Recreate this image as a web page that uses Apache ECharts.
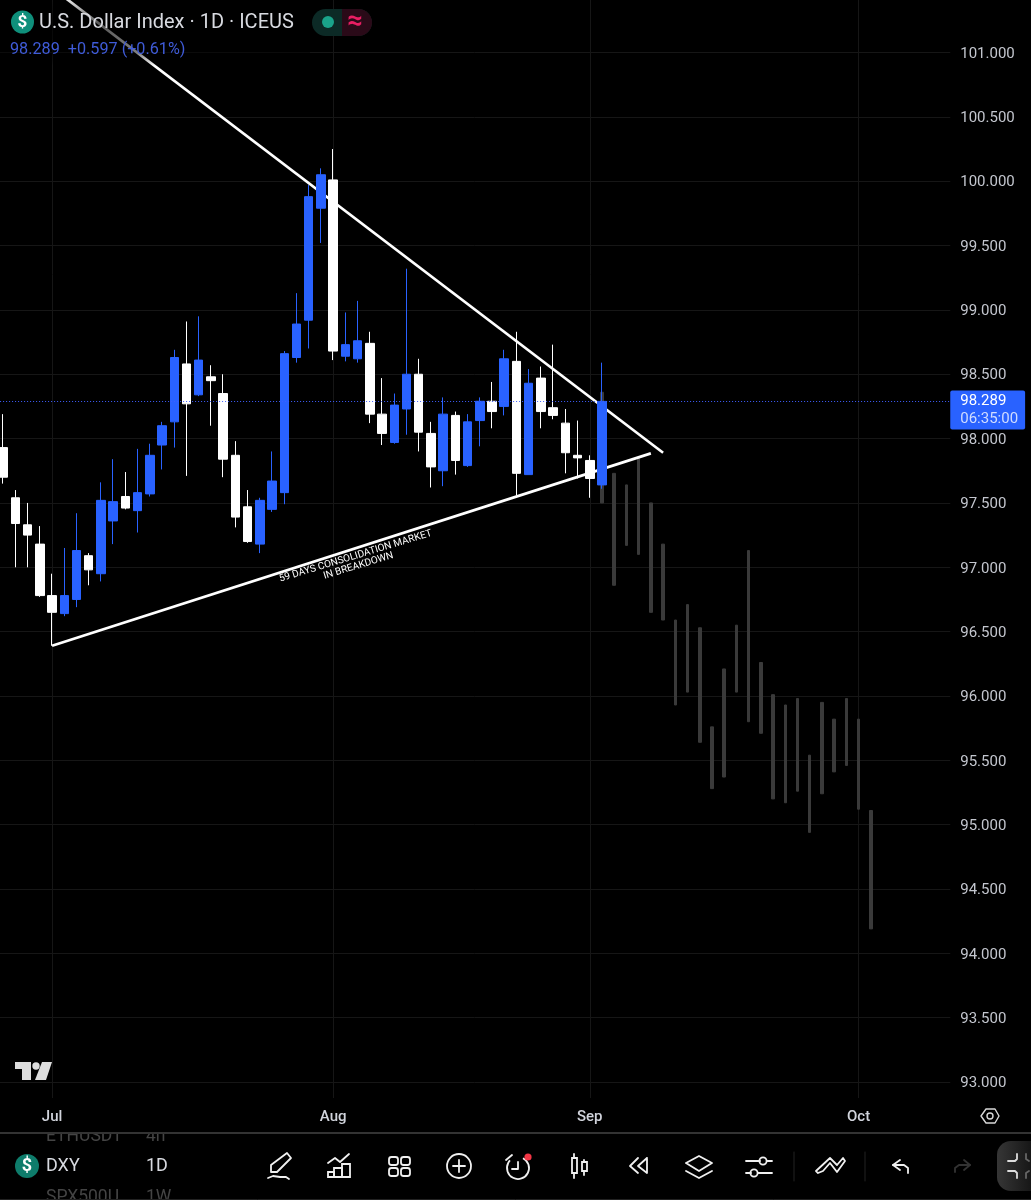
<!DOCTYPE html>
<html>
<head>
<meta charset="utf-8">
<style>html,body{margin:0;padding:0;background:#000}#c{width:1031px;height:1200px}</style>
<script src="https://cdn.jsdelivr.net/npm/echarts@6/dist/echarts.min.js"></script>
</head>
<body>
<div id="c"></div>
<script>
const tradingDays = [
 '06-25','06-26','06-27','06-30','07-01','07-02','07-03','07-04','07-07','07-08','07-09','07-10','07-11',
 '07-14','07-15','07-16','07-17','07-18','07-21','07-22','07-23','07-24','07-25','07-28','07-29','07-30','07-31',
 '08-01','08-04','08-05','08-06','08-07','08-08','08-11','08-12','08-13','08-14','08-15','08-18','08-19','08-20',
 '08-21','08-22','08-25','08-26','08-27','08-28','08-29','09-01','09-02','09-03','09-04','09-05','09-08','09-09',
 '09-10','09-11','09-12','09-15','09-16','09-17','09-18','09-19','09-22','09-23','09-24','09-25','09-26','09-29',
 '09-30','10-01','10-02','10-03','10-06','10-07','10-08','10-09','10-10'];
const monthLabels = {'07-01':'Jul','08-01':'Aug','09-01':'Sep','10-01':'Oct'};
const priceTicks = [93,93.5,94,94.5,95,95.5,96,96.5,97,97.5,98,98.5,99,99.5,100,100.5,101];

// open, close, low, high (blue = close above open, white = close below open)
const candles = [
 [97.93,97.70,97.65,98.19],[97.54,97.34,97.00,97.60],[97.33,97.25,97.00,97.50],[97.18,96.78,96.77,97.32],
 [96.78,96.65,96.39,96.95],[96.64,96.78,96.62,97.15],[96.75,97.13,96.69,97.42],[97.09,96.98,96.86,97.11],
 [96.95,97.52,96.89,97.66],[97.36,97.51,97.18,97.84],[97.55,97.46,97.45,97.74],[97.44,97.58,97.27,97.92],
 [97.57,97.87,97.55,97.96],[97.95,98.10,97.76,98.13],[98.13,98.63,97.93,98.69],[98.58,98.27,97.71,98.91],
 [98.34,98.61,98.33,98.95],[98.48,98.45,98.10,98.57],[98.35,97.84,97.70,98.50],[97.87,97.39,97.31,97.98],
 [97.47,97.20,97.19,97.60],[97.18,97.52,97.11,97.54],[97.45,97.67,97.43,97.90],[97.58,98.66,97.49,98.68],
 [98.63,98.89,98.59,99.13],[98.92,99.88,98.70,99.97],[99.79,100.05,99.52,100.10],[100.01,98.68,98.61,100.25],
 [98.64,98.73,98.60,98.98],[98.62,98.76,98.59,99.07],[98.74,98.19,98.12,98.83],[98.19,98.04,97.95,98.47],
 [97.97,98.26,97.96,98.35],[98.23,98.50,98.03,99.32],[98.50,98.05,97.90,98.62],[98.04,97.78,97.62,98.13],
 [97.75,98.19,97.63,98.32],[98.18,97.83,97.72,98.21],[97.79,98.13,97.78,98.19],[98.14,98.29,97.94,98.32],
 [98.29,98.21,98.08,98.44],[98.25,98.62,98.18,98.69],[98.60,97.73,97.56,98.83],[97.72,98.43,97.72,98.54],
 [98.47,98.21,98.08,98.56],[98.24,98.18,98.15,98.73],[98.12,97.89,97.73,98.23],[97.87,97.85,97.69,98.14],
 [97.83,97.69,97.54,97.87],[97.64,98.289,97.61,98.59]];

// projected bars: first day index, then [high, low]
const ghostStart = 49;
const ghostRanges = [
 [98.36,97.50],[97.73,96.86],[97.64,97.17],[97.85,97.10],[97.50,96.65],[97.18,96.59],[96.59,95.93],[96.71,96.03],
 [96.53,95.64],[95.76,95.28],[96.21,95.37],[96.55,96.03],[97.13,95.80],[96.26,95.71],[96.01,95.20],[95.93,95.17],
 [95.98,95.26],[95.54,94.94],[95.95,95.24],[95.82,95.41],[95.98,95.46],[95.82,95.12],[95.11,94.19]];

const upperTrend = [[5,101.43],[54,97.89]];
const lowerTrend = [[4,96.39],[53,97.885]];
const lastPrice = 98.289;

const ghostData = tradingDays.map((d,i)=>{
  const r = ghostRanges[i-ghostStart];
  return r ? [r[0],r[1],r[1],r[0]] : '-';
});
const candleData = tradingDays.map((d,i)=>candles[i] || '-');

const FONT='Roboto, sans-serif', WHITE='#ffffff', IC='#f0f0f0';
const g=[];
const line=(pts,o={})=>g.push({type:'polyline',z:o.z||100,shape:{points:pts},style:{stroke:o.c||IC,lineWidth:o.w||1.8,fill:o.fill||'none',lineJoin:'round',lineCap:'round'}});
const circ=(x,y,r,o={})=>g.push({type:'circle',z:o.z||100,shape:{cx:x,cy:y,r},style:{stroke:o.c||(o.fill?null:IC),lineWidth:o.w||1.8,fill:o.fill||'none'}});
const box=(x,y,w,h,o={})=>g.push({type:'rect',z:o.z||100,shape:{x,y,width:w,height:h,r:o.r||0},style:{stroke:o.c||(o.fill?null:IC),lineWidth:o.w||1.8,fill:o.fill||'none'}});
const poly=(pts,fill)=>g.push({type:'polygon',z:100,shape:{points:pts},style:{fill}});
const txt=(x,y,t,o={})=>g.push({type:'text',z:o.z||101,x,y:y+1.5,rotation:o.rot||0,style:{text:t,fill:o.c||'#d1d4dc',font:(o.weight||'400')+' '+(o.size||15)+'px '+FONT,align:o.align||'left',verticalAlign:'middle',lineHeight:o.lh}});

// header veil over the trend line
g.push({type:'rect',z:90,shape:{x:0,y:0,width:310,height:66},style:{fill:{type:'linear',x:0,y:0,x2:0,y2:1,colorStops:[{offset:0,color:'rgba(0,0,0,0.1)'},{offset:0.35,color:'rgba(0,0,0,0.65)'},{offset:0.8,color:'rgba(0,0,0,0.5)'},{offset:1,color:'rgba(0,0,0,0)'}]}}});
circ(22.5,22,11.5,{fill:'#0f8f7b'});
txt(22.5,21.5,'$',{c:'#fff',size:17,weight:'700',align:'center'});
txt(39,21.5,'U.S. Dollar Index · 1D · ICEUS',{size:20,c:'#d8dae0'});
txt(10,48,'98.289  +0.597 (+0.61%)',{size:16.2,c:'#3f5bd8'});
box(312,9,60,27,{fill:'#0c2a26',r:13.5});
box(342,9,30,27,{fill:'#2a0a18',r:[0,13.5,13.5,0]});
circ(328,22,6,{fill:'#1aa38a'});
txt(355,21,'≈',{c:'#e91e63',size:27,weight:'700',align:'center'});

// annotation
txt(357,559.5,'59 DAYS CONSOLIDATION MARKET\nIN BREAKDOWN',{c:'#fff',size:10,align:'center',rot:0.295,lh:10});

// TradingView mark
poly([[15,1062],[31,1062],[31,1080],[22,1080],[22,1069],[15,1069]],'#dddddd');
circ(36,1066,3.7,{fill:'#dddddd'});
poly([[42,1062],[52,1062],[46,1080],[35,1080]],'#dddddd');

// axis settings
line([[981,1116],[986,1109],[995,1109],[999,1116],[995,1123],[986,1123],[981,1116]],{c:'#d8d8d8',w:1.4});
circ(990,1116,3,{c:'#d8d8d8',w:1.4});

// bottom bar
txt(46,1135,'ETHUSDT',{c:'#444',size:17.5,z:98});
txt(146,1135,'4h',{c:'#444',size:17.5,z:98});
txt(46,1196,'SPX500U',{c:'#444',size:17.5,z:98});
txt(146,1196,'1W',{c:'#444',size:17.5,z:98});
box(0,1126,1031,6,{fill:'#000',z:99});
g.push({type:'line',z:100,shape:{x1:0,y1:1133,x2:1031,y2:1133},style:{stroke:'#333',lineWidth:2}});
g.push({type:'line',z:100,shape:{x1:0,y1:1199.5,x2:1031,y2:1199.5},style:{stroke:'#222',lineWidth:1}});
circ(27,1166,12,{fill:'#0e7c6b'});
txt(27,1165,'$',{c:'#fff',size:18,weight:'700',align:'center'});
txt(46,1165,'DXY',{size:18,c:'#d8dae0'});
txt(146,1165,'1D',{size:18,c:'#d8dae0'});
// pencil
line([[271,1172],[271,1165],[287,1153],[291,1158],[277,1172],[271,1172]]);
line([[268,1178],[273,1176],[280,1177],[286,1177],[289,1179]]);
// chart
line([[328,1163],[335,1158],[340,1162],[349,1154]]);
box(328,1172,6,5);box(334,1168,8,9);box(342,1164,8,13);
// grid
box(389,1157,9,8,{r:2.5});box(401,1157,9,8,{r:2.5});box(389,1168,9,8,{r:2.5});box(401,1168,9,8,{r:2.5});
// plus
circ(459,1166,12);line([[453,1166],[465,1166]]);line([[459,1160],[459,1172]]);
// alarm
g.push({type:'arc',z:100,shape:{cx:518,cy:1168,r:11,startAngle:-1.1,endAngle:3.9,clockwise:true},style:{stroke:IC,lineWidth:1.8,fill:'none'}});
line([[518,1162],[518,1169],[512,1169]]);line([[506,1160],[512,1155]]);
circ(528,1157,3.6,{fill:'#f23645'});
// candles
line([[574,1154],[574,1158]]);line([[574,1173],[574,1178]]);box(572,1158,5,15);
line([[584,1160],[584,1162]]);line([[584,1171],[584,1175]]);box(582,1162,5,9);
// rewind
line([[638,1158],[630,1166],[638,1173]]);line([[647,1158],[638,1166],[647,1173],[647,1158]]);
// layers
line([[686,1163],[699,1156],[712,1163],[699,1171],[686,1163]]);line([[686,1171],[699,1178],[712,1171]]);
// sliders
line([[746,1161],[760,1161]]);circ(763,1161,3.6);line([[767,1161],[772,1161]]);
line([[746,1173],[751,1173]]);circ(754,1173,3.6);line([[758,1173],[772,1173]]);
// separators
line([[794,1152],[794,1181]],{c:'#222',w:1});line([[865,1152],[865,1181]],{c:'#222',w:1});
// wave
line([[816,1171],[830,1158],[837,1165],[843,1158],[845,1161],[837,1172],[830,1163],[823,1171],[818,1173],[816,1171]]);
// undo / redo
line([[900,1160],[893,1165],[900,1170]]);line([[893,1165],[904,1165],[908,1168],[908,1173]]);
line([[964,1160],[970,1165],[964,1170]],{c:'#333'});line([[970,1165],[959,1165],[955,1168],[955,1172]],{c:'#333'});
// fullscreen bubble
g.push({type:'rect',z:100,shape:{x:997,y:1141,width:50,height:50,r:14},style:{fill:{type:'linear',x:0,y:0,x2:1,y2:0,colorStops:[{offset:0,color:'#363636'},{offset:0.7,color:'#161616'},{offset:1,color:'#000'}]}}});
line([[1008,1161],[1015,1161],[1017,1159],[1017,1154]],{c:'#ddd'});
line([[1008,1171],[1015,1171],[1017,1173],[1017,1178]],{c:'#ddd'});
line([[1026,1154],[1026,1159],[1029,1161]],{c:'#666'});
line([[1026,1178],[1026,1173],[1029,1171]],{c:'#666'});

const chart = echarts.init(document.getElementById('c'),null,{renderer:'canvas'});
chart.setOption({
  animation:false,
  backgroundColor:'#000',
  grid:{left:-2.9,top:0,width:953.16,height:1098,containLabel:false,outerBoundsMode:'none'},
  xAxis:{
    type:'category',data:tradingDays,boundaryGap:true,
    axisLine:{show:false},axisTick:{show:false},
    axisLabel:{
      interval:(i,v)=>v in monthLabels,
      formatter:v=>monthLabels[v]||'',
      color:'#d1d4dc',fontFamily:FONT,fontSize:15,fontWeight:500,margin:12,hideOverlap:false
    },
    splitLine:{show:true,alignWithLabel:true,interval:(i,v)=>v in monthLabels,lineStyle:{color:'#161616',width:1}}
  },
  yAxis:{
    type:'value',position:'right',min:92.876,max:101.408,scale:true,
    axisLine:{show:false},
    axisTick:{show:false,customValues:priceTicks},
    axisLabel:{customValues:priceTicks,formatter:v=>v.toFixed(3),color:'#c3c6ce',fontFamily:FONT,fontSize:15,margin:10,align:'left',verticalAlign:'top',showMinLabel:true,showMaxLabel:true,padding:[-6,0,0,0]},
    splitLine:{show:true,lineStyle:{color:'#161616',width:1}}
  },
  series:[
    {name:'projection',type:'candlestick',data:ghostData,barWidth:3,z:2,clip:true,
     itemStyle:{color:'#3a3a3a',color0:'#3a3a3a',borderColor:'#3a3a3a',borderColor0:'#3a3a3a',borderWidth:1}},
    {name:'upper trend',type:'line',data:upperTrend,z:3,clip:false,symbol:'none',lineStyle:{color:'#fff',width:2.7},silent:true},
    {name:'lower trend',type:'line',data:lowerTrend,z:3,clip:false,symbol:'none',lineStyle:{color:'#fff',width:2.7},silent:true},
    {name:'DXY',type:'candlestick',data:candleData,barWidth:9,z:4,
     itemStyle:{color:'#2962ff',color0:'#ffffff',borderColor:'#2962ff',borderColor0:'#ffffff',borderWidth:1},
     markLine:{silent:true,symbol:'none',animation:false,precision:3,
       data:[{yAxis:lastPrice}],
       lineStyle:{color:'#3f5fff',type:[1,2],width:1,opacity:1},
       label:{position:'end',distance:0,offset:[0,8.5],
         formatter:'{a|98.289}\n{b|06:35:00}',
         backgroundColor:'#2962ff',borderRadius:2,padding:[2,7,1,10],
         rich:{a:{color:'#fff',fontFamily:FONT,fontSize:15,lineHeight:18},b:{color:'#d0dcff',fontFamily:FONT,fontSize:15,lineHeight:18}}}}}
  ],
  graphic:{elements:g}
});
</script>
</body>
</html>
